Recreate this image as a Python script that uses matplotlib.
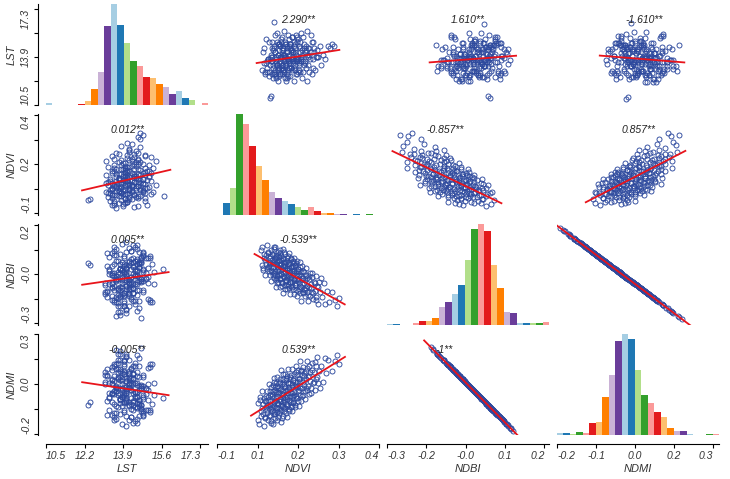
import numpy as np
import matplotlib.pyplot as plt

plt.rcParams['font.family'] = ['Liberation Sans', 'DejaVu Sans']

# ---- data ----
names = ["LST", "NDVI", "NDBI", "NDMI"]

ndvi = [0.062, 0.065, 0.068, 0.071, 0.074, 0.076, 0.079, 0.081, 0.084, 0.086, 0.088, 0.090,
        0.091, 0.093, 0.094, 0.095, 0.097, 0.098, 0.099, 0.100, 0.102, 0.103, 0.104, 0.106,
        0.107, 0.108, 0.110, 0.111, 0.112, 0.114, 0.115, 0.116, 0.117, 0.118, 0.119, 0.120,
        0.121, 0.122, 0.123, 0.124, 0.125, 0.126, 0.127, 0.128, 0.129, 0.130, 0.131, 0.132,
        0.133, 0.134, 0.135, 0.136, 0.137, 0.138, 0.139, 0.140, 0.141, 0.142, 0.143, 0.144,
        0.145, 0.146, 0.147, 0.148, 0.149, 0.150,
        0.151, 0.152, 0.153, 0.154, 0.155, 0.156, 0.157, 0.158, 0.159, 0.160, 0.161, 0.162,
        0.163, 0.164, 0.165, 0.166, 0.167, 0.168, 0.169, 0.170, 0.172, 0.173, 0.174, 0.175,
        0.176, 0.177, 0.178, 0.180,
        0.181, 0.182, 0.184, 0.185, 0.186, 0.188, 0.189, 0.190, 0.192, 0.193, 0.194, 0.196,
        0.197, 0.198, 0.200, 0.201, 0.202, 0.204, 0.205, 0.206, 0.208, 0.210,
        0.211, 0.213, 0.215, 0.217, 0.219, 0.221, 0.223, 0.225, 0.227, 0.229, 0.231, 0.233,
        0.235, 0.237, 0.239,
        0.242, 0.245, 0.248, 0.251, 0.254, 0.257, 0.260, 0.263, 0.266, 0.269,
        0.273, 0.279, 0.284, 0.290, 0.296, 0.308, 0.318, 0.325, 0.330,
        # second batch, dense core
        0.095, 0.098, 0.101, 0.103, 0.105, 0.107, 0.109, 0.111, 0.113, 0.115,
        0.117, 0.119, 0.121, 0.123, 0.125, 0.127, 0.129, 0.131, 0.133, 0.135,
        0.137, 0.139, 0.141, 0.143, 0.145, 0.147, 0.149, 0.151, 0.153, 0.155,
        0.157, 0.159, 0.161, 0.163, 0.165, 0.167, 0.169, 0.171, 0.173, 0.175,
        0.177, 0.179, 0.181, 0.183, 0.185, 0.187, 0.189, 0.191, 0.193, 0.195,
        0.198, 0.200, 0.203, 0.206, 0.209, 0.212, 0.215, 0.218, 0.222, 0.226,
        0.230, 0.234, 0.238, 0.243, 0.248, 0.253, 0.258, 0.090, 0.086, 0.082,
        0.078, 0.073, 0.069, 0.112, 0.128, 0.146, 0.160, 0.140, 0.118, 0.176]

ndbi = [0.057, 0.005, 0.068, -0.013, 0.030, -0.031, 0.039, 0.008, 0.075, -0.001, 0.048, -0.017,
        0.016, 0.010, -0.031, 0.037, -0.004, 0.057, -0.053, 0.021, -0.020, 0.042, -0.001, 0.023,
        -0.043, 0.067, -0.017, 0.030, -0.032, 0.007, -0.072, 0.039, -0.013, 0.014, -0.042, 0.050,
        -0.002, -0.056, 0.019, -0.029, 0.033, -0.016, 0.004, -0.074, 0.048, -0.040, 0.009, -0.026,
        0.021, -0.054, -0.008, -0.068, 0.031, -0.034, 0.000, -0.095, 0.012, -0.022, 0.051, -0.053,
        -0.010, -0.067, 0.003, -0.032, 0.017, -0.047,
        0.029, -0.082, -0.012, -0.043, 0.008, -0.064, 0.037, -0.033, -0.006, -0.078, 0.015, -0.057,
        -0.024, -0.098, -0.004, -0.044, 0.025, -0.069, -0.016, -0.057, 0.002, -0.081, -0.026, -0.044,
        0.013, -0.097, -0.016, -0.065,
        0.002, -0.083, -0.029, -0.058, 0.018, -0.106, -0.017, -0.050, -0.011, -0.079, -0.042, -0.096,
        -0.001, -0.069, -0.033, -0.123, -0.019, -0.062, 0.000, -0.091, -0.040, -0.081,
        -0.019, -0.105, -0.048, -0.077, -0.006, -0.091, -0.040, -0.123, -0.034, -0.073, -0.023, -0.106,
        -0.062, -0.090, -0.039,
        -0.115, -0.054, -0.089, -0.035, -0.107, -0.069, -0.135, -0.057, -0.091, -0.040,
        -0.107, -0.060, -0.133, -0.086, -0.125, -0.091, -0.121, -0.140, -0.113,
        0.028, -0.012, 0.045, -0.030, 0.012, 0.060, -0.022, 0.018, -0.048, 0.032,
        0.002, -0.035, 0.040, -0.010, 0.022, -0.045, 0.008, -0.028, 0.035, -0.060,
        0.000, 0.026, -0.038, 0.014, -0.020, 0.045, -0.052, -0.005, 0.020, -0.070,
        -0.030, 0.010, -0.012, -0.055, 0.030, -0.038, -0.002, -0.075, 0.018, -0.025,
        -0.050, 0.005, -0.065, -0.020, 0.012, -0.045, -0.088, -0.010, -0.060, -0.030,
        0.015, -0.072, -0.040, -0.095, -0.015, -0.058, -0.085, -0.030, -0.068, -0.100,
        -0.045, -0.078, -0.025, -0.095, -0.060, -0.118, -0.075, 0.000, 0.050, -0.010,
        0.022, 0.045, -0.005, 0.070, 0.058, -0.082, 0.048, 0.062, -0.060, 0.030]

ndmi = [-0.057, -0.005, -0.068, 0.013, -0.030, 0.031, -0.039, -0.008, -0.075, 0.001, -0.048, 0.017,
        -0.016, -0.010, 0.031, -0.037, 0.004, -0.057, 0.053, -0.021, 0.020, -0.042, 0.001, -0.023,
        0.043, -0.067, 0.017, -0.030, 0.032, -0.007, 0.072, -0.039, 0.013, -0.014, 0.042, -0.050,
        0.002, 0.056, -0.019, 0.029, -0.033, 0.016, -0.004, 0.074, -0.048, 0.040, -0.009, 0.026,
        -0.021, 0.054, 0.008, 0.068, -0.031, 0.034, 0.000, 0.095, -0.012, 0.022, -0.051, 0.053,
        0.010, 0.067, -0.003, 0.032, -0.017, 0.047,
        -0.029, 0.082, 0.012, 0.043, -0.008, 0.064, -0.037, 0.033, 0.006, 0.078, -0.015, 0.057,
        0.024, 0.098, 0.004, 0.044, -0.025, 0.069, 0.016, 0.057, -0.002, 0.081, 0.026, 0.044,
        -0.013, 0.097, 0.016, 0.065,
        -0.002, 0.083, 0.029, 0.058, -0.018, 0.106, 0.017, 0.050, 0.011, 0.079, 0.042, 0.096,
        0.001, 0.069, 0.033, 0.123, 0.019, 0.062, 0.000, 0.091, 0.040, 0.081,
        0.019, 0.105, 0.048, 0.077, 0.006, 0.091, 0.040, 0.123, 0.034, 0.073, 0.023, 0.106,
        0.062, 0.090, 0.039,
        0.115, 0.054, 0.089, 0.035, 0.107, 0.069, 0.135, 0.057, 0.091, 0.040,
        0.107, 0.060, 0.133, 0.086, 0.125, 0.091, 0.121, 0.140, 0.113,
        -0.028, 0.012, -0.045, 0.030, -0.012, -0.060, 0.022, -0.018, 0.048, -0.032,
        -0.002, 0.035, -0.040, 0.010, -0.022, 0.045, -0.008, 0.028, -0.035, 0.060,
        0.000, -0.026, 0.038, -0.014, 0.020, -0.045, 0.052, 0.005, -0.020, 0.070,
        0.030, -0.010, 0.012, 0.055, -0.030, 0.038, 0.002, 0.075, -0.018, 0.025,
        0.050, -0.005, 0.065, 0.020, -0.012, 0.045, 0.088, 0.010, 0.060, 0.030,
        -0.015, 0.072, 0.040, 0.095, 0.015, 0.058, 0.085, 0.030, 0.068, 0.100,
        0.045, 0.078, 0.025, 0.095, 0.060, 0.118, 0.075, 0.000, -0.050, 0.010,
        -0.022, -0.045, 0.005, -0.070, -0.058, 0.082, -0.048, -0.062, 0.060, -0.030]

lst = [13.7, 14.5, 14.7, 13.6, 15.1, 14.0, 13.6, 14.1, 14.2, 13.4, 15.0, 14.2,
       12.4, 12.5, 14.3, 14.1, 15.0, 14.7, 13.5, 14.3, 14.6, 13.9, 15.9, 14.7,
       13.5, 14.5, 13.5, 15.3, 14.1, 13.3, 14.3, 15.0, 13.9, 15.4, 13.2, 14.4,
       14.4, 13.8, 14.0, 14.9, 14.9, 13.4, 14.8, 14.1, 14.8, 13.5, 14.3, 15.1,
       13.7, 13.5, 14.6, 14.3, 15.2, 13.7, 13.9, 13.7, 14.7, 13.6, 14.4, 14.3,
       15.5, 13.3, 14.2, 14.3, 14.9, 13.2,
       14.9, 13.9, 13.5, 14.7, 14.5, 13.3, 15.3, 14.2, 13.4, 14.1, 14.4, 13.8,
       14.8, 13.8, 14.7, 13.4, 14.9, 14.5, 13.8, 14.2, 15.2, 13.7, 14.2, 14.6,
       14.1, 14.1, 14.5, 13.2,
       14.8, 13.8, 13.7, 14.5, 14.9, 14.1, 13.5, 14.2, 15.0, 13.5, 15.2, 13.6,
       14.2, 14.1, 13.7, 13.9, 14.7, 13.6, 15.0, 14.1, 14.3, 13.3,
       14.6, 14.1, 13.6, 13.9, 14.7, 14.5, 14.0, 13.8, 14.8, 13.2, 14.4, 13.9,
       14.7, 13.6, 14.7,
       14.2, 14.5, 13.5, 15.0, 13.8, 14.5, 13.7, 14.3, 14.6, 14.3,
       14.3, 14.8, 13.9, 14.4, 14.2, 14.8, 14.7, 14.9, 14.8,
       14.4, 14.1, 13.3, 13.8, 14.8, 13.6, 13.7, 14.5, 14.2, 13.4,
       13.9, 14.9, 13.7, 13.8, 14.6, 14.3, 13.5, 14.0, 15.0, 13.8,
       13.9, 14.7, 14.4, 13.6, 14.1, 15.0, 13.9, 14.0, 14.8, 14.5,
       13.7, 14.2, 15.1, 14.0, 14.1, 14.9, 14.6, 13.8, 14.3, 15.2,
       14.0, 14.2, 15.0, 14.7, 13.9, 14.4, 15.3, 14.1, 14.3, 15.1,
       14.8, 14.0, 14.5, 15.4, 14.2, 14.4, 15.2, 14.9, 14.1, 14.6,
       15.5, 14.3, 14.4, 15.3, 15.0, 14.2, 14.7, 13.9, 13.6, 14.2,
       13.8, 13.5, 14.0, 14.0, 14.3, 14.4, 14.2, 14.6, 13.9, 14.5]

data = [lst, ndvi, ndbi, ndmi]

# histogram bar heights on the diagonal (25 bins each)
lst_counts = [6, 0, 0, 0, 0, 4, 12, 48, 100, 240, 308, 245, 190, 133, 120, 85, 82, 64, 54, 34, 42, 20, 15, 0, 5]
ndvi_counts = [0, 12, 27, 100, 90, 68, 49, 35, 23, 17, 14, 11, 8, 5, 8, 4, 2, 2, 1, 1, 0, 1, 0, 1, 0]
ndbi_counts = [3, 3, 0, 0, 5, 12, 12, 22, 55, 70, 95, 122, 197, 290, 305, 285, 180, 113, 40, 37, 6, 7, 5, 5, 8]
ndmi_counts = [6, 5, 4, 8, 7, 35, 40, 113, 178, 282, 302, 287, 195, 120, 95, 70, 55, 22, 12, 12, 4, 0, 0, 3, 3]
hist_counts = [lst_counts, ndvi_counts, ndbi_counts, ndmi_counts]

tick_labels = [["10.5", "12.2", "13.9", "15.6", "17.3"],
               ["-0.1", "0.1", "0.2", "0.3", "0.4"],
               ["-0.3", "-0.2", "-0.0", "0.1", "0.2"],
               ["-0.2", "-0.1", "0.0", "0.2", "0.3"]]

coef_text = {(0, 1): "2.290**", (0, 2): "1.610**", (0, 3): "-1.610**",
             (1, 0): "0.012**", (1, 2): "-0.857**", (1, 3): "0.857**",
             (2, 0): "0.005**", (2, 1): "-0.539**",
             (3, 0): "-0.005**", (3, 1): "0.539**", (3, 2): "-1**"}

paired = ['#A6CEE3', '#1F78B4', '#B2DF8A', '#33A02C', '#FB9A99',
          '#E31A1C', '#FDBF6F', '#FF7F00', '#CAB2D6', '#6A3D9A']

# ---- layout (pixels) ----
W, H = 730, 479
col_left = [46, 217, 387, 557]
col_w = 162
row_top = [4, 114, 224, 334]
row_h = 101

xtick_frac = [[0, .238, .477, .715, .953], [0, .25, .5, .75, 1.0],
              [0, .243, .486, .729, .972], [0, .241, .482, .723, .963]]
ytick_frac = [[0, .2375, .475, .7125, .95], [.02, .262, .505, .747, .99],
              [.02, .262, .505, .747, .99], [.01, .257, .505, .752, 1.0]]

# where data min / max land inside each panel: x0, x1, y0, y1 (fractions)
place = {(0, 1): (0.28, 0.72, 0.07, 0.82), (0, 2): (0.30, 0.76, 0.07, 0.80),
         (0, 3): (0.30, 0.75, 0.06, 0.81), (1, 0): (0.26, 0.73, 0.07, 0.81),
         (1, 2): (0.08, 0.66, 0.09, 0.81), (1, 3): (0.22, 0.75, 0.10, 0.81),
         (2, 0): (0.26, 0.72, 0.07, 0.82), (2, 1): (0.27, 0.75, 0.19, 0.79),
         (2, 3): (0.02, 0.77, 0.06, 0.96), (3, 0): (0.26, 0.72, 0.09, 0.86),
         (3, 1): (0.25, 0.75, 0.09, 0.79), (3, 2): (0.27, 0.78, 0.04, 0.87)}
coef_x = {(1, 2): 0.36, (3, 2): 0.35, (0, 3): 0.54}

pt_color = '#2E4A9E'
txt_color = '#333333'


def frac_lim(v, f0, f1):
    a, b = min(v), max(v)
    span = (b - a) / (f1 - f0)
    lo = a - f0 * span
    return lo, lo + span


fig = plt.figure(figsize=(W / 100, H / 100), dpi=100)

for i in range(4):
    for j in range(4):
        ax = fig.add_axes([col_left[j] / W, 1 - (row_top[i] + row_h) / H, col_w / W, row_h / H])
        for s in ax.spines.values():
            s.set_visible(False)
        ax.patch.set_alpha(0)

        if i == j:
            counts = hist_counts[i]
            ax.bar(np.arange(len(counts)), counts, width=1.0, align='edge',
                   color=[paired[k % 10] for k in range(len(counts))], linewidth=0)
            ax.set_xlim(0, len(counts))
            ax.set_ylim(0, max(counts))
        else:
            x = np.array(data[j])
            y = np.array(data[i])
            fx0, fx1, fy0, fy1 = place[(i, j)]
            ax.set_xlim(frac_lim(x, fx0, fx1))
            ax.set_ylim(frac_lim(y, fy0, fy1))
            ax.plot(x, y, 'o', ms=3.6, mfc='none', mec=pt_color, mew=0.65)
            m, c = np.polyfit(x, y, 1)
            pad = 0.08 * (x.max() - x.min())
            xx = np.array([x.min() - pad, x.max() + pad])
            ax.plot(xx, m * xx + c, color='#E8141B', lw=1.3)
            if (i, j) in coef_text:
                ax.text(coef_x.get((i, j), 0.5), 0.84, coef_text[(i, j)], transform=ax.transAxes,
                        ha='center', va='center', fontsize=7.5, style='italic', color='#222222')

        x0, x1 = ax.get_xlim()
        y0, y1 = ax.get_ylim()

        if j == 0:
            ax.spines['left'].set_visible(True)
            ax.spines['left'].set_position(('outward', 5.8))
            ax.spines['left'].set_linewidth(0.8)
            ax.set_yticks([y0 + f * (y1 - y0) for f in ytick_frac[i]])
            labs = [t if k % 2 == 0 else "" for k, t in enumerate(tick_labels[i])]
            ax.set_yticklabels(labs, rotation=90, fontsize=7.5, style='italic', color=txt_color)
            ax.tick_params(axis='y', direction='out', length=3.2, width=0.8, pad=1.8)
            ylabs = ax.get_yticklabels()
            for k, lb in enumerate(ylabs):
                lb.set_ha('right')
                lb.set_va('bottom' if k == 0 else ('top' if k == 4 else 'center'))
        else:
            ax.set_yticks([])

        if i == 3:
            ax.spines['bottom'].set_visible(True)
            ax.spines['bottom'].set_position(('outward', 6.5))
            ax.spines['bottom'].set_linewidth(0.8)
            ax.set_xticks([x0 + f * (x1 - x0) for f in xtick_frac[j]])
            ax.set_xticklabels(tick_labels[j], fontsize=7.5, style='italic', color=txt_color)
            ax.tick_params(axis='x', direction='out', length=3.2, width=0.8, pad=1.8)
            xlabs = ax.get_xticklabels()
            xlabs[0].set_ha('left')
            xlabs[-1].set_ha('right')
        else:
            ax.set_xticks([])

        ax.set_xlim(x0, x1)
        ax.set_ylim(y0, y1)

# variable names
for j in range(4):
    fig.text((col_left[j] + col_w / 2) / W, 1 - 469 / H, names[j], ha='center', va='center',
             fontsize=8, style='italic', color=txt_color)
for i in range(4):
    fig.text(12 / W, 1 - (row_top[i] + row_h / 2) / H, names[i], ha='center', va='center',
             rotation=90, fontsize=8, style='italic', color=txt_color)

fig.savefig("out.png", dpi=100)
